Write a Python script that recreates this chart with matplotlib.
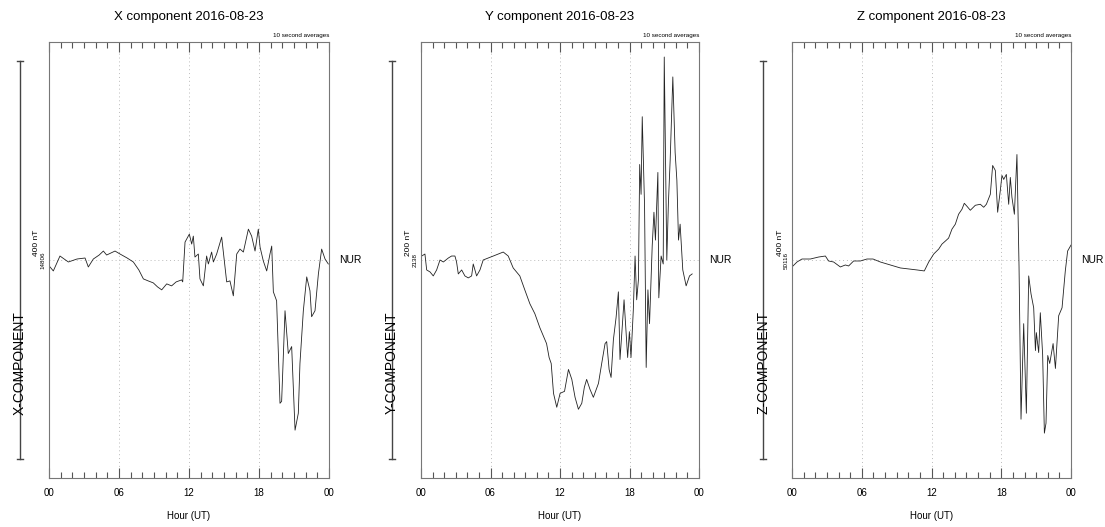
"""Three-panel magnetogram (NUR, 2016-08-23), 10 second averages."""

import matplotlib
matplotlib.use("Agg")
import matplotlib.pyplot as plt
import matplotlib.transforms as mtransforms

plt.rcParams["font.family"] = ["Liberation Sans", "DejaVu Sans"]

DATE = "2016-08-23"
STATION = "NUR"

# hours (UT) and deviation from baseline (nT)
x_hours = [0.09, 0.37, 0.94, 1.66, 2.4, 3.09, 3.37, 3.8, 4.3, 4.66, 4.94, 5.66, 6.09, 6.7,
           7.23, 7.7, 8.09, 8.5, 8.94, 9.3, 9.66, 10.09, 10.51, 10.9, 11.37, 11.46, 11.66,
           12.03, 12.23, 12.37, 12.51, 12.8, 12.94, 13.23, 13.51, 13.66, 13.94, 14.09,
           14.37, 14.8, 15.23, 15.51, 15.8, 16.09, 16.37, 16.66, 17.09, 17.37, 17.66,
           17.94, 18.09, 18.37, 18.66, 18.94, 19.09, 19.23, 19.51, 19.66, 19.8, 19.94,
           20.23, 20.51, 20.8, 21.09, 21.37, 21.51, 21.8, 22.09, 22.37, 22.51, 22.8,
           23.09, 23.37, 23.66, 23.94]
x_values = [-7, -11, 4, -2, 1, 2, -7, 1, 5, 9, 5, 9, 6, 2,
            -2, -10, -19, -21, -23, -27, -30, -24, -26, -22, -20, -22, 18,
            26, 16, 24, 3, 6, -19, -26, 4, -4, 8, -2,
            6, 23, -22, -21, -36, 6, 11, 8, 31, 24, 9,
            31, 13, -1, -11, 6, 14, -32, -41, -94, -144, -142,
            -51, -94, -87, -171, -154, -104, -51, -17, -31, -57, -51,
            -14, 11, 1, -4]

y_hours = [0.06, 0.34, 0.49, 0.78, 1.06, 1.35, 1.64, 1.93, 2.36, 2.64, 2.93, 3.07, 3.22,
           3.51, 3.79, 4.08, 4.37, 4.51, 4.8, 5.09, 5.37, 5.8, 6.24, 6.67, 7.1, 7.53,
           7.96, 8.53, 8.96, 9.4, 9.83, 10.26, 10.84, 11.06, 11.24, 11.44, 11.72, 12.01,
           12.39, 12.73, 13.02, 13.3, 13.59, 13.88, 14.1, 14.3, 14.59, 14.88, 15.32,
           15.6, 15.89, 16.03, 16.24, 16.41, 16.61, 16.84, 17.04, 17.18, 17.38, 17.53,
           17.84, 17.99, 18.13, 18.33, 18.48, 18.62, 18.77, 18.88, 19.0, 19.1, 19.3,
           19.44, 19.59, 19.73, 19.96, 20.11, 20.24, 20.45, 20.53, 20.73, 20.91, 21.0,
           21.22, 21.36, 21.51, 21.74, 21.94, 22.09, 22.23, 22.37, 22.6, 22.89, 23.18,
           23.41]
y_values = [2, 3, -5, -6, -8, -5, 0, -1, 1, 2, 2, -1, -7,
            -5, -8, -9, -8, -2, -8, -5, 0, 1, 2, 3, 4, 2,
            -4, -8, -15, -22, -27, -34, -42, -49, -52, -67, -74, -67,
            -66, -55, -60, -69, -75, -72, -64, -60, -65, -69, -62, -52,
            -42, -41, -55, -59, -40, -29, -16, -50, -33, -20,
            -49, -36, -49, -25, 2, -20, -10, 48, 33, 72, 27,
            -54, -15, -32, 7, 24, 10, 44, -19, 2, -2, 102,
            0, 29, 50, 92, 54, 40, 10, 18, -5, -13, -8,
            -7]

z_hours = [0.0, 0.43, 0.86, 1.58, 2.29, 2.87, 3.15, 3.58, 4.16, 4.59, 4.87, 5.3, 5.88,
           6.45, 6.97, 7.6, 8.46, 9.32, 10.04, 10.75, 11.38, 11.76, 12.19, 12.62, 12.9,
           13.19, 13.47, 13.76, 14.05, 14.33, 14.62, 14.82, 15.05, 15.34, 15.77, 16.2,
           16.49, 16.72, 17.06, 17.26, 17.49, 17.69, 17.92, 18.06, 18.21, 18.44, 18.64,
           18.78, 18.92, 19.13, 19.35, 19.53, 19.7, 19.93, 20.16, 20.36, 20.56, 20.79,
           20.94, 21.02, 21.22, 21.36, 21.56, 21.71, 21.85, 22.0, 22.17, 22.46, 22.66,
           22.94, 23.23, 23.51, 23.71, 24.0]
z_values = [-7, -2, 1, 1, 3, 4, -1, -2, -7, -5, -6, -1, -1,
            1, 1, -2, -5, -8, -9, -10, -11, -2, 6, 11, 16, 19,
            22, 31, 36, 46, 51, 57, 54, 50, 55, 56, 53, 56,
            66, 95, 90, 48, 70, 85, 81, 86, 56, 83, 63,
            46, 106, -7, -160, -64, -154, -16, -34, -48, -91,
            -73, -93, -53, -95, -174, -164, -96, -104, -84, -109, -56,
            -48, -11, 9, 15]

panels = [
    {"name": "X", "hours": x_hours, "values": x_values, "base": 14806,
     "scale": 400, "left": 49, "width": 280},
    {"name": "Y", "hours": y_hours, "values": y_values, "base": 2138,
     "scale": 200, "left": 421, "width": 278},
    {"name": "Z", "hours": z_hours, "values": z_values, "base": 50116,
     "scale": 400, "left": 792, "width": 279},
]

FIG_W, FIG_H = 1105, 527
AX_TOP, AX_BOTTOM = 42, 478
BAR_PX = 398

fig = plt.figure(figsize=(FIG_W / 100, FIG_H / 100), dpi=100)

for p in panels:
    ax_h = AX_BOTTOM - AX_TOP
    ax = fig.add_axes([p["left"] / FIG_W, (FIG_H - AX_BOTTOM) / FIG_H,
                       p["width"] / FIG_W, ax_h / FIG_H])

    half = p["scale"] / BAR_PX * ax_h / 2
    base = p["base"]
    vals = [base + v for v in p["values"]]

    ax.plot(p["hours"], vals, color="#222222", linewidth=0.6)
    ax.set_xlim(0, 24)
    ax.set_ylim(base - half, base + half)

    for h in (6, 12, 18):
        ax.axvline(h, color="#bbbbbb", linestyle=(0, (1, 3)), linewidth=0.7, zorder=0)
    ax.axhline(base, color="#bbbbbb", linestyle=(0, (1, 3)), linewidth=0.7, zorder=0)

    ax.set_xticks([0, 6, 12, 18, 24])
    ax.set_xticklabels(["00", "06", "12", "18", "00"], fontsize=7)
    ax.set_xticks(range(25), minor=True)
    ax.tick_params(axis="x", which="both", direction="in", top=True, bottom=True,
                   color="#555555", width=0.8)
    ax.tick_params(axis="x", which="major", length=7, pad=7)
    ax.tick_params(axis="x", which="minor", length=4)
    ax.set_yticks([])
    for sp in ax.spines.values():
        sp.set_color("#777777")
        sp.set_linewidth(0.8)

    ax.text(0.5, 1.057, f"{p['name']} component {DATE}", transform=ax.transAxes,
            ha="center", va="center", fontsize=9.5)
    ax.text(1.0, 1.016, "10 second averages", transform=ax.transAxes,
            ha="right", va="center", fontsize=4.5)
    ax.text(0.5, -0.087, "Hour (UT)", transform=ax.transAxes,
            ha="center", va="center", fontsize=7)
    blend = mtransforms.blended_transform_factory(ax.transAxes, ax.transData)
    ax.text(1.036, base, STATION, transform=blend, ha="left", va="center", fontsize=7.5)
    ax.text(-0.02, base, str(base), transform=blend, ha="center", va="center",
            rotation=90, fontsize=4.5)

    # scale bar on the left
    bx = -29 / p["width"]
    cap = 3 / p["width"]
    sb = p["scale"] / 2
    ax.plot([bx, bx], [base - sb, base + sb], transform=blend, color="#444444",
            linewidth=1.0, clip_on=False)
    for yy in (base - sb, base + sb):
        ax.plot([bx - cap, bx + cap], [yy, yy], transform=blend, color="#444444",
                linewidth=1.0, clip_on=False)
    ax.text(bx, 0.264, f"{p['name']}-COMPONENT", transform=ax.transAxes,
            ha="center", va="center", rotation=90, fontsize=10)
    ax.text(-12 / p["width"], 0.539, f"{p['scale']} nT", transform=ax.transAxes,
            ha="center", va="center", rotation=90, fontsize=6)

fig.savefig("out.png", dpi=100)
plt.close(fig)
